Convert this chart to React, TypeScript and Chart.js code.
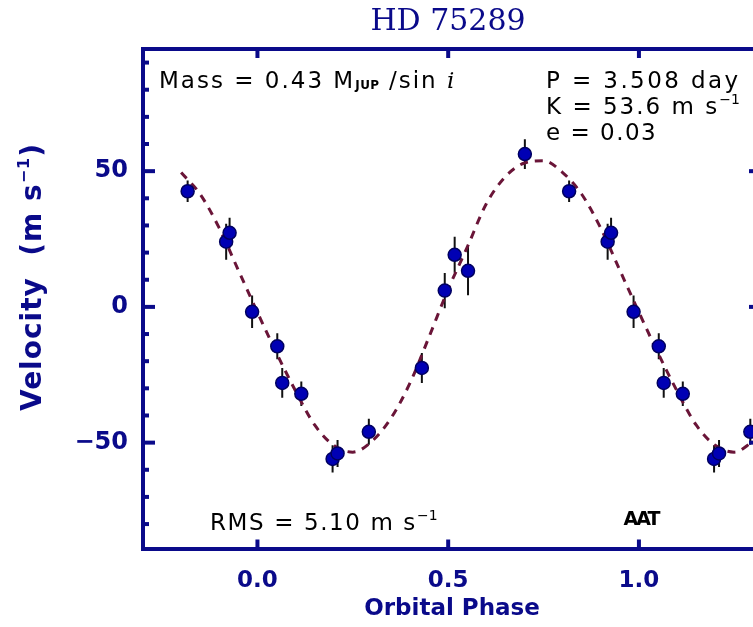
import React, { useEffect, useRef } from "react";
import { Chart, registerables } from "chart.js";

Chart.register(...registerables);

// ---------- text ----------
const titleText = "HD 75289";
const xAxisTitle = "Orbital Phase";
const yAxisTitleMain = "Velocity  (m s";
const yAxisTitleSup = "\u22121";
const yAxisTitleEnd = ")";
const massMain = "Mass = 0.43 M";
const massSub = "JUP";
const massTail = " /sin ";
const massItalic = "i";
const periodText = "P = 3.508 day";
const amplitudeText = "K = 53.6 m s";
const eccText = "e = 0.03";
const rmsText = "RMS = 5.10 m s";
const unitSup = "\u22121";
const telescopeText = "AAT";

// ---------- data ----------
// observed radial velocities, folded on orbital phase (0..1)
const obsPhase = [0.052, 0.065, 0.115, 0.197, 0.21, 0.292, 0.431, 0.491, 0.517, 0.552, 0.701, 0.817, 0.918, 0.927, 0.986];
const obsVelocity = [-14.5, -28, -32, -56, -54, -46, -22.5, 6, 19.2, 13.3, 56.3, 42.6, 24, 27.3, -1.8];
const obsError = [4.8, 5.5, 4.5, 5, 5, 4.8, 5.5, 6.5, 6.6, 9, 5.5, 4, 6.6, 5.5, 6];

// orbital fit curve
const fitPhase = [
  -0.2, -0.15, -0.1, -0.05, 0.0, 0.05, 0.1, 0.15, 0.2, 0.25, 0.3, 0.35, 0.4, 0.45, 0.5, 0.55,
  0.6, 0.65, 0.7, 0.75, 0.8, 0.85, 0.9, 0.95, 1.0, 1.05, 1.1, 1.15, 1.2, 1.25, 1.3,
];
const fitVelocity = [
  49.5, 41.5, 29, 13.5, -2, -17, -31, -43.5, -51, -53.5, -49.5, -41, -28, -11, 6.5, 22,
  38, 48, 53, 53.8, 49.5, 41.5, 29, 13.5, -2, -17, -31, -43.5, -51, -53.5, -49.5,
];

// axes
const xRange = [-0.3, 1.32];
const yRange = [-89, 95];
const foldRange = [-0.2, 1.3];
const xTickStep = 0.5;
const yTickStep = 10;
const yLabelStep = 50;

// ---------- styles ----------
const NAVY = "#0a0a8a";
const MAROON = "#6a1538";
const DOT = "#0000b4";

export default function App() {
  const ref = useRef<HTMLCanvasElement>(null);

  useEffect(() => {
    const canvas = ref.current;
    if (!canvas) return;

    const points: { x: number; y: number; err: number }[] = [];
    obsPhase.forEach((p, i) => {
      for (const shift of [-1, 0, 1]) {
        const x = p + shift;
        if (x >= foldRange[0] && x <= foldRange[1]) {
          points.push({ x, y: obsVelocity[i], err: obsError[i] });
        }
      }
    });
    const fit = fitPhase.map((x, i) => ({ x, y: fitVelocity[i] }));

    const drawRun = (
      ctx: CanvasRenderingContext2D,
      parts: { text: string; font: string; dy?: number; ls?: number }[],
      x: number,
      y: number
    ) => {
      let cx = x;
      for (const p of parts) {
        ctx.font = p.font;
        (ctx as any).letterSpacing = (p.ls ?? 0) + "px";
        ctx.fillText(p.text, cx, y + (p.dy ?? 0));
        cx += ctx.measureText(p.text).width;
      }
      return cx;
    };

    const framePlugin = {
      id: "frameTicks",
      beforeDatasetsDraw(chart: any) {
        const { ctx, chartArea: a, scales } = chart;
        ctx.save();
        ctx.beginPath();
        ctx.rect(a.left, a.top, a.right - a.left, a.bottom - a.top);
        ctx.clip();
        ctx.strokeStyle = "#111";
        ctx.lineWidth = 2;
        for (const pt of points) {
          const px = scales.x.getPixelForValue(pt.x);
          ctx.beginPath();
          ctx.moveTo(px, scales.y.getPixelForValue(pt.y - pt.err));
          ctx.lineTo(px, scales.y.getPixelForValue(pt.y + pt.err));
          ctx.stroke();
        }
        ctx.restore();
      },
      afterDraw(chart: any) {
        const { ctx, chartArea: a, scales } = chart;
        ctx.save();
        ctx.strokeStyle = NAVY;
        ctx.lineWidth = 4;
        const line = (x1: number, y1: number, x2: number, y2: number) => {
          ctx.beginPath();
          ctx.moveTo(x1, y1);
          ctx.lineTo(x2, y2);
          ctx.stroke();
        };
        for (const t of scales.x.ticks) {
          const px = scales.x.getPixelForValue(t.value);
          line(px, a.bottom, px, a.bottom - 9);
        }
        for (const t of scales.x2.ticks) {
          const px = scales.x2.getPixelForValue(t.value);
          line(px, a.top, px, a.top + 9);
        }
        for (const t of scales.y.ticks) {
          const py = scales.y.getPixelForValue(t.value);
          const len = t.value % yLabelStep === 0 ? 12 : 6;
          line(a.left, py, a.left + len, py);
        }
        for (const t of scales.y2.ticks) {
          const py = scales.y2.getPixelForValue(t.value);
          const len = t.value % yLabelStep === 0 ? 12 : 6;
          line(a.right, py, a.right - len, py);
        }

        // annotations
        ctx.fillStyle = "#000";
        ctx.textBaseline = "alphabetic";
        ctx.textAlign = "left";
        const f = '23px "DejaVu Sans"';
        drawRun(
          ctx,
          [
            { text: massMain, font: f, ls: 2 },
            { text: massSub, font: 'bold 12px "DejaVu Sans"', ls: 0.5, dy: 1 },
            { text: massTail, font: f, ls: 2 },
            { text: massItalic, font: 'italic 23px "DejaVu Serif"' },
          ],
          159,
          88
        );
        drawRun(ctx, [{ text: periodText, font: f, ls: 2.4 }], 546, 88);
        drawRun(
          ctx,
          [
            { text: amplitudeText, font: f, ls: 2 },
            { text: unitSup, font: '14px "DejaVu Sans"', dy: -10 },
          ],
          546,
          114
        );
        drawRun(ctx, [{ text: eccText, font: f, ls: 1.5 }], 546, 140);
        drawRun(
          ctx,
          [
            { text: rmsText, font: f, ls: 1.6 },
            { text: unitSup, font: '14px "DejaVu Sans"', dy: -10 },
          ],
          210,
          530
        );
        ctx.textAlign = "center";
        (ctx as any).letterSpacing = "-2px";
        ctx.font = 'bold 19px "DejaVu Sans"';
        ctx.fillText(telescopeText, 641, 525);

        // y axis title
        ctx.fillStyle = NAVY;
        ctx.textAlign = "left";
        ctx.textBaseline = "middle";
        const mainFont = 'bold 28px "DejaVu Sans"';
        const supFont = 'bold 16px "DejaVu Sans"';
        (ctx as any).letterSpacing = "1px";
        ctx.font = mainFont;
        const w1 = ctx.measureText(yAxisTitleMain).width;
        const w3 = ctx.measureText(yAxisTitleEnd).width;
        ctx.font = supFont;
        const w2 = ctx.measureText(yAxisTitleSup).width;
        const total = w1 + w2 + w3;
        ctx.translate(34, 277);
        ctx.rotate(-Math.PI / 2);
        drawRun(
          ctx,
          [
            { text: yAxisTitleMain, font: mainFont, ls: 1 },
            { text: yAxisTitleSup, font: supFont, ls: 1, dy: -9 },
            { text: yAxisTitleEnd, font: mainFont, ls: 1 },
          ],
          -total / 2,
          0
        );
        ctx.restore();
      },
    };

    const border = { display: true, color: NAVY, width: 4 };
    const tickFont = { family: "DejaVu Sans", weight: "bold" as const, size: 24 };

    const chart = new Chart(canvas, {
      type: "scatter",
      data: {
        datasets: [
          {
            type: "scatter",
            label: "AAT",
            data: points,
            pointRadius: 6.5,
            pointBackgroundColor: DOT,
            pointBorderColor: "#000060",
            pointBorderWidth: 1.5,
            order: 0,
          },
          {
            type: "line",
            label: "Orbit fit",
            data: fit,
            borderColor: MAROON,
            borderWidth: 3,
            borderDash: [8, 7],
            pointRadius: 0,
            fill: false,
            cubicInterpolationMode: "monotone",
            order: 1,
          },
        ],
      } as any,
      options: {
        animation: false,
        responsive: false,
        maintainAspectRatio: false,
        devicePixelRatio: 1,
        layout: { padding: 0 },
        plugins: {
          legend: { display: false },
          tooltip: { enabled: false },
          title: {
            display: true,
            text: titleText,
            color: NAVY,
            font: { family: "DejaVu Serif", size: 30, weight: "normal", lineHeight: 1.2 },
            padding: { top: 4, bottom: 0 },
          },
        },
        scales: {
          x: {
            type: "linear",
            position: "bottom",
            min: xRange[0],
            max: xRange[1],
            afterFit: (s: any) => {
              s.height = 78.5;
            },
            grid: { display: false, drawTicks: false },
            border,
            ticks: {
              stepSize: xTickStep,
              includeBounds: false,
              color: NAVY,
              font: { ...tickFont, size: 23 },
              padding: 19,
              maxRotation: 0,
              autoSkip: false,
              callback: (v: any) => Number(v).toFixed(1),
            },
            title: {
              display: true,
              text: xAxisTitle,
              color: NAVY,
              font: { family: "DejaVu Sans", weight: "bold", size: 23 },
              padding: { top: 0, bottom: 4 },
            },
          },
          x2: {
            type: "linear",
            position: "top",
            min: xRange[0],
            max: xRange[1],
            afterFit: (s: any) => {
              s.height = 9;
            },
            grid: { display: false, drawTicks: false },
            border,
            ticks: { display: false, stepSize: xTickStep, includeBounds: false },
          },
          y: {
            type: "linear",
            position: "left",
            min: yRange[0],
            max: yRange[1],
            afterFit: (s: any) => {
              s.width = 143;
            },
            grid: { display: false, drawTicks: false },
            border,
            ticks: {
              stepSize: yTickStep,
              includeBounds: false,
              autoSkip: false,
              color: NAVY,
              font: tickFont,
              padding: 15,
              callback: (v: any) => {
                const n = Number(v);
                if (n % yLabelStep !== 0) return "";
                return n < 0 ? "\u2212" + Math.abs(n) : String(n);
              },
            },
          },
          y2: {
            type: "linear",
            position: "right",
            min: yRange[0],
            max: yRange[1],
            afterFit: (s: any) => {
              s.width = 135;
            },
            grid: { display: false, drawTicks: false },
            border,
            ticks: { display: false, stepSize: yTickStep, includeBounds: false, autoSkip: false },
          },
        },
      } as any,
      plugins: [framePlugin],
    });

    return () => chart.destroy();
  }, []);

  return (
    <div
      style={{
        position: "fixed",
        left: 0,
        top: 0,
        width: 753,
        height: 627,
        overflow: "hidden",
        background: "#fff",
      }}
    >
      <canvas ref={ref} width={896} height={627} style={{ display: "block", width: 896, height: 627 }} />
    </div>
  );
}
